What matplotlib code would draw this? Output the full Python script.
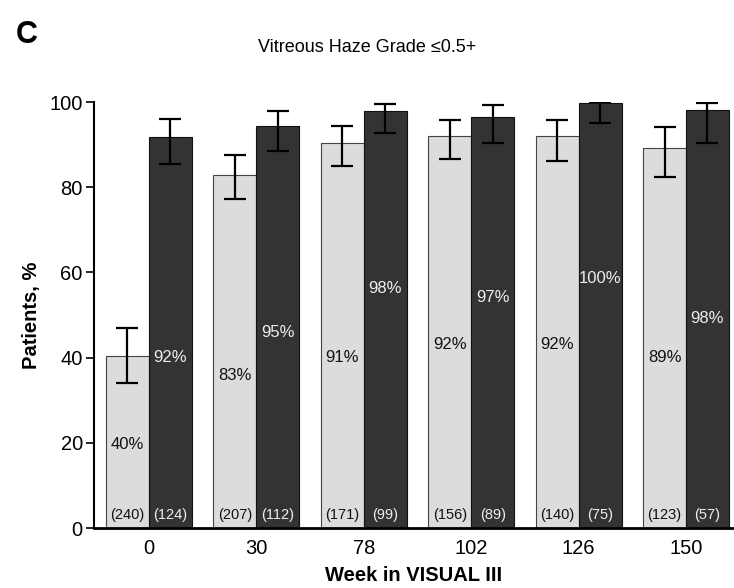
import numpy as np
import matplotlib.pyplot as plt

plt.rcParams['font.family'] = ['Liberation Sans', 'DejaVu Sans']

weeks = ['0', '30', '78', '102', '126', '150']

# percent of patients with vitreous haze grade <=0.5+
light_vals = [40.4, 82.9, 90.4, 92.0, 92.0, 89.2]
dark_vals = [91.8, 94.4, 97.9, 96.5, 99.8, 98.1]
light_lo = [34.0, 77.2, 85.0, 86.6, 86.2, 82.4]
light_hi = [47.0, 87.6, 94.4, 95.8, 95.8, 94.1]
dark_lo = [85.4, 88.5, 92.7, 90.4, 95.0, 90.4]
dark_hi = [96.0, 97.9, 99.5, 99.3, 100.0, 99.8]

light_labels = ['40%', '83%', '91%', '92%', '92%', '89%']
dark_labels = ['92%', '95%', '98%', '97%', '100%', '98%']
light_n = ['(240)', '(207)', '(171)', '(156)', '(140)', '(123)']
dark_n = ['(124)', '(112)', '(99)', '(89)', '(75)', '(57)']

# where the percent labels sit inside the bars
light_label_y = [19.5, 35.7, 40.0, 43.0, 43.0, 40.0]
dark_label_y = [40.0, 46.0, 56.3, 54.2, 58.5, 49.3]

x = np.arange(len(weeks))
w = 0.4

fig = plt.figure(figsize=(7.34, 5.88), dpi=100)
ax = fig.add_axes([0.128, 0.102, 0.871, 0.7245])

light_err = [np.array(light_vals) - np.array(light_lo), np.array(light_hi) - np.array(light_vals)]
dark_err = [np.array(dark_vals) - np.array(dark_lo), np.array(dark_hi) - np.array(dark_vals)]

ax.bar(x - w / 2, light_vals, w, color='#dcdcdc', edgecolor='#444444', linewidth=0.8,
       yerr=light_err, capsize=8, error_kw=dict(elinewidth=1.6, capthick=1.6, ecolor='black'))
ax.bar(x + w / 2, dark_vals, w, color='#333333', edgecolor='#111111', linewidth=0.8,
       yerr=dark_err, capsize=8, error_kw=dict(elinewidth=1.6, capthick=1.6, ecolor='black'))

for i in range(len(weeks)):
    ax.text(x[i] - w / 2, light_label_y[i], light_labels[i], ha='center', va='center',
            fontsize=12, color='#111111')
    ax.text(x[i] + w / 2, dark_label_y[i], dark_labels[i], ha='center', va='center',
            fontsize=12, color='#eeeeee')
    ax.text(x[i] - w / 2, 3, light_n[i], ha='center', va='center', fontsize=10.5, color='#111111')
    ax.text(x[i] + w / 2, 3, dark_n[i], ha='center', va='center', fontsize=10.5, color='#eeeeee')

ax.set_xlim(-0.512, 5.44)
ax.set_ylim(0, 100)
ax.set_xticks(x)
ax.set_xticklabels(weeks, fontsize=14.5)
ax.set_yticks([0, 20, 40, 60, 80, 100])
ax.tick_params(axis='y', labelsize=14.5, length=6, width=1.2, pad=2)
ax.tick_params(axis='x', length=0, pad=8)
for s in ['top', 'right']:
    ax.spines[s].set_visible(False)
ax.spines['left'].set_linewidth(1.5)
ax.spines['bottom'].set_linewidth(2)

ax.set_ylabel('Patients, %', fontsize=14.5, fontweight='bold', labelpad=6)
ax.set_xlabel('Week in VISUAL III', fontsize=14.5, fontweight='bold', labelpad=6)

fig.text(0.5, 0.92, 'Vitreous Haze Grade \u22640.5+', ha='center', va='center', fontsize=13)
fig.text(0.022, 0.94, 'C', ha='left', va='center', fontsize=22, fontweight='bold')

fig.savefig('out.png', dpi=100)
